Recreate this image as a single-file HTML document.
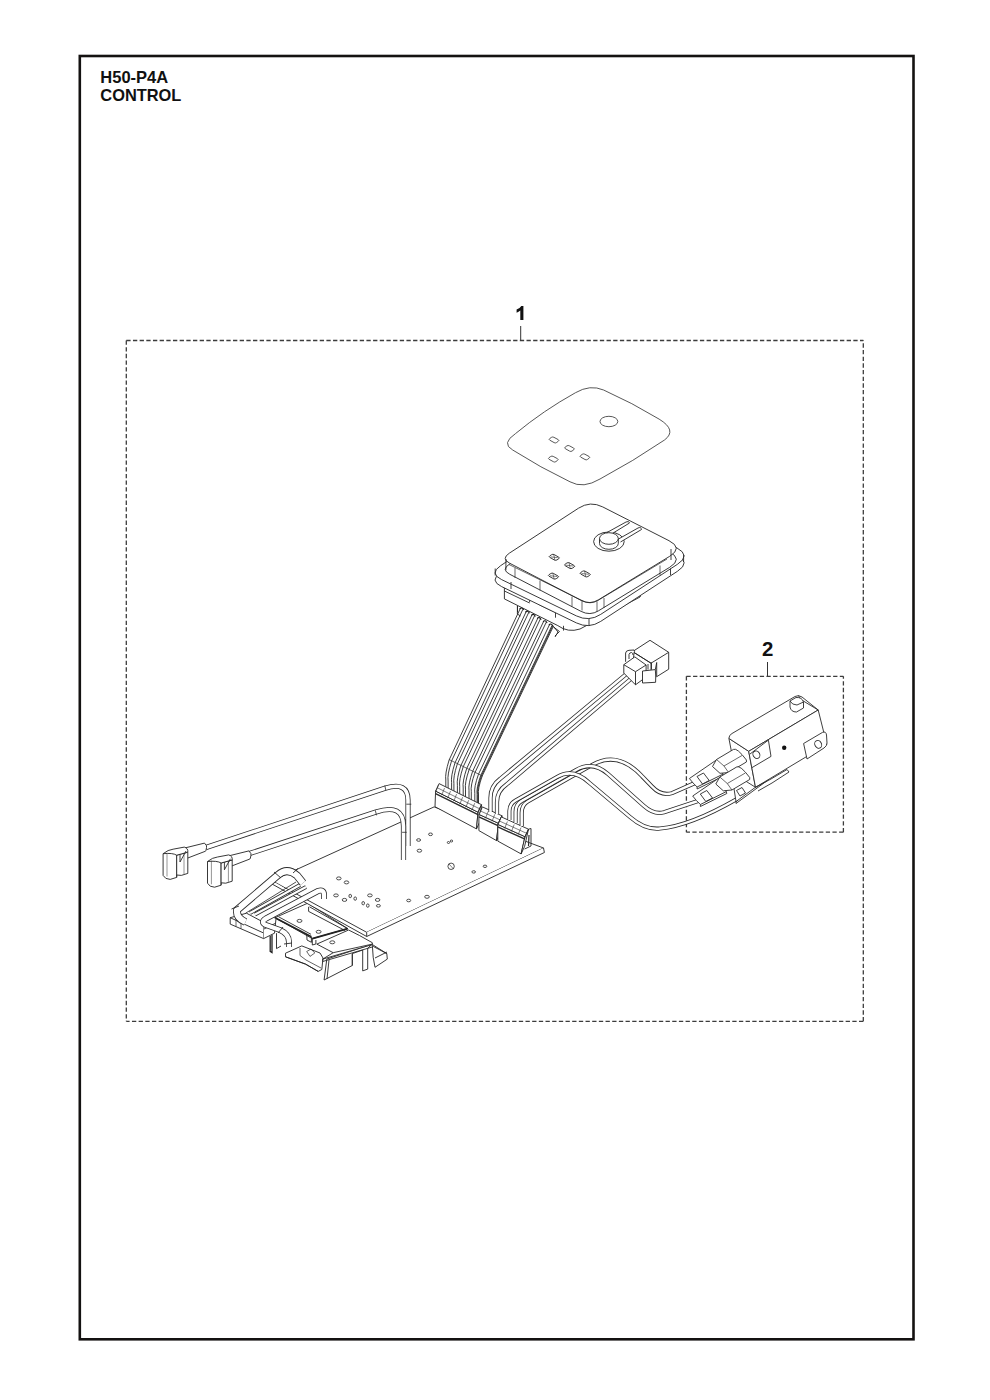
<!DOCTYPE html>
<html><head><meta charset="utf-8">
<style>
html,body{margin:0;padding:0;background:#fff;width:990px;height:1400px;overflow:hidden}
svg{position:absolute;left:0;top:0}
text{-webkit-font-smoothing:antialiased;font-family:"Liberation Sans",sans-serif;font-weight:bold;fill:#111}
</style></head><body>
<svg width="990" height="1400" viewBox="0 0 990 1400">
<rect x="79.8" y="56" width="833.7" height="1283.3" fill="none" stroke="#141211" stroke-width="2.6"/>
<text x="100.3" y="82.6" font-size="16.5">H50-P4A</text>
<text x="100.3" y="100.5" font-size="16.4">CONTROL</text>
<g fill="none" stroke="#3c3c3c" stroke-width="1.3" stroke-dasharray="4.3 2.37">
<path d="M126.3 340.5H863.3"/><path d="M126.3 340.5V1021.3"/><path d="M863.3 1021.3H126.3"/><path d="M863.3 1021.3V340.5"/>
<path d="M686.4 676.3H843.4"/><path d="M686.4 676.3V832.2"/><path d="M843.4 832.2H686.4"/><path d="M843.4 832.2V676.3"/>
</g>
<g stroke="#333" stroke-width="1">
<path d="M520.7 326V340.5"/><path d="M767.5 662V676.3"/>
</g>
<path d="M520.3 320V310.6Q518.6 312.1 516.6 312.8V309.6Q520 308.2 521.3 305.9H523.4V320Z" fill="#111"/>
<text x="762" y="656.2" font-size="20.4">2</text>
<path d="M515.5 433.6Q543.6 410.4 575.5 392.7Q590 384.2 603.6 390Q632.3 402.8 659.1 419.1Q677.5 430.3 664.5 440Q633.3 461.2 600 479Q583.2 489.1 570 481.8Q540.4 467.6 512.7 450Q500.9 443.5 515.5 433.6Z" fill="none" stroke="#444" stroke-width="0.9" />
<ellipse cx="608.9" cy="421.5" rx="8.9" ry="5.2" fill="none" stroke="#444" stroke-width="0.9"/>
<path d="M549.8 440.2Q548.5 439.4 549.7 438.6L551.4 437.4Q552.6 436.6 553.9 437.3L558.2 439.6Q559.5 440.3 558.3 441.2L556.6 442.5Q555.4 443.4 554.1 442.6Z" fill="none" stroke="#444" stroke-width="0.9" />
<path d="M565.3 448.7Q564 447.9 565.2 447.1L566.9 445.9Q568.1 445.1 569.4 445.8L573.7 448.1Q575 448.8 573.8 449.7L572.1 451Q570.9 451.9 569.6 451.1Z" fill="none" stroke="#444" stroke-width="0.9" />
<path d="M580.7 457.1Q579.4 456.3 580.6 455.5L582.3 454.3Q583.5 453.5 584.8 454.2L589.1 456.5Q590.4 457.2 589.2 458.1L587.5 459.4Q586.3 460.3 585 459.5Z" fill="none" stroke="#444" stroke-width="0.9" />
<path d="M549.1 459.3Q547.8 458.5 549 457.7L550.7 456.5Q551.9 455.7 553.2 456.4L557.5 458.7Q558.8 459.4 557.6 460.3L555.9 461.6Q554.7 462.5 553.4 461.7Z" fill="none" stroke="#444" stroke-width="0.9" />
<path d="M504.4 586V598.9L557.8 625.6Q568 633 580 629L640 597V586" fill="#fff" stroke="#222" stroke-width="0.9" />
<polyline points="529.6 595 529.6 602.3" fill="none" stroke="#2a2a2a" stroke-width="0.9"/>
<polyline points="539.3 599.9 539.3 604.7" fill="none" stroke="#2a2a2a" stroke-width="0.9"/>
<polyline points="555.5 612 555.5 617.7" fill="none" stroke="#2a2a2a" stroke-width="0.9"/>
<polyline points="563.5 625.8 563.5 630.6" fill="none" stroke="#2a2a2a" stroke-width="0.9"/>
<polyline points="504.4 591 529.6 603" fill="none" stroke="#2a2a2a" stroke-width="0.9"/>
<polyline points="539.3 604.7 555.5 612.5" fill="none" stroke="#2a2a2a" stroke-width="0.9"/>
<polyline points="636 590 636 598" fill="none" stroke="#2a2a2a" stroke-width="0.9"/>
<polyline points="640 588 640 597" fill="none" stroke="#2a2a2a" stroke-width="0.9"/>
<path d="M517.5 606V612M553.5 627L559.5 631.5L555 636" fill="none" stroke="#222" stroke-width="0.9" />
<path d="M582.4 517.8Q594 510 606.3 516.7L676.9 554.9Q691 562.5 677.6 571.2L600.7 621.4Q589 629 576.4 622.9L501.6 586.6Q489 580.5 500.6 572.7Z" fill="#fff" stroke="#222" stroke-width="0.9" />
<path d="M582.4 510.8Q594 503 606.3 509.7L676.9 547.9Q691 555.5 677.6 564.2L600.7 614.4Q589 622 576.4 615.9L501.6 579.6Q489 573.5 500.6 565.7Z" fill="#fff" stroke="#222" stroke-width="0.9" />
<polyline points="495.2 568.5 495.2 575.5" fill="none" stroke="#2a2a2a" stroke-width="0.9"/>
<polyline points="683.6 555 683.6 562" fill="none" stroke="#2a2a2a" stroke-width="0.9"/>
<polyline points="589 618.5 589 626" fill="none" stroke="#2a2a2a" stroke-width="0.9"/>
<polyline points="511 582 511 589" fill="none" stroke="#2a2a2a" stroke-width="0.9"/>
<polyline points="670.5 568.5 670.5 575" fill="none" stroke="#2a2a2a" stroke-width="0.9"/>
<path d="M578.5 519.2Q590.2 511.6 602.7 517.9L669 551.7Q683.3 558.9 669.7 567.3L598.5 610.8Q590 616 581.1 611.4L509.8 574.3Q500.9 569.7 509.3 564.2Z" fill="#fff" stroke="#222" stroke-width="0.9" />
<path d="M578.5 508.2Q590.2 500.6 602.7 506.9L669 540.7Q683.3 547.9 669.7 556.3L598.5 599.8Q590 605 581.1 600.4L509.8 563.3Q500.9 558.7 509.3 553.2Z" fill="#fff" stroke="#222" stroke-width="0.9" />
<polyline points="505.9 559 505.9 570" fill="none" stroke="#2a2a2a" stroke-width="0.9"/>
<polyline points="671 549 671 560" fill="none" stroke="#2a2a2a" stroke-width="0.9"/>
<path d="M509 564.5L583 601Q590 604.5 597 601L667 559" fill="none" stroke="#222" stroke-width="0.7" />
<polyline points="515 568 515 578" fill="none" stroke="#2a2a2a" stroke-width="0.7"/>
<polyline points="540 580.5 540 590.5" fill="none" stroke="#2a2a2a" stroke-width="0.7"/>
<polyline points="572 596.5 572 606.5" fill="none" stroke="#2a2a2a" stroke-width="0.7"/>
<polyline points="582 600.5 582 610.5" fill="none" stroke="#2a2a2a" stroke-width="0.7"/>
<polyline points="597 601.5 597 611.5" fill="none" stroke="#2a2a2a" stroke-width="0.7"/>
<polyline points="604 598 604 608" fill="none" stroke="#2a2a2a" stroke-width="0.7"/>
<polyline points="660 565.5 660 575.5" fill="none" stroke="#2a2a2a" stroke-width="0.7"/>
<path d="M549.8 557.4Q548.5 556.7 549.8 555.9L551.6 554.7Q552.9 553.9 554.2 554.6L558.8 557.2Q560.1 557.9 558.8 558.7L557 559.9Q555.7 560.7 554.4 560Z" fill="none" stroke="#222" stroke-width="0.9" />
<polyline points="553.7 554.3 554.9 560.3" fill="none" stroke="#2a2a2a" stroke-width="0.6"/>
<polyline points="550.7 556.9 557.9 557.7" fill="none" stroke="#2a2a2a" stroke-width="0.6"/>
<path d="M565.1 565.7Q563.8 565 565.1 564.2L566.9 563Q568.2 562.2 569.5 562.9L574.1 565.5Q575.4 566.2 574.1 567L572.3 568.2Q571 569 569.7 568.3Z" fill="none" stroke="#222" stroke-width="0.9" />
<polyline points="569 562.6 570.2 568.6" fill="none" stroke="#2a2a2a" stroke-width="0.6"/>
<polyline points="566 565.2 573.2 566" fill="none" stroke="#2a2a2a" stroke-width="0.6"/>
<path d="M580.7 574Q579.4 573.3 580.7 572.5L582.5 571.3Q583.8 570.5 585.1 571.2L589.7 573.8Q591 574.5 589.7 575.3L587.9 576.5Q586.6 577.3 585.3 576.6Z" fill="none" stroke="#222" stroke-width="0.9" />
<polyline points="584.6 570.9 585.8 576.9" fill="none" stroke="#2a2a2a" stroke-width="0.6"/>
<polyline points="581.6 573.5 588.8 574.3" fill="none" stroke="#2a2a2a" stroke-width="0.6"/>
<path d="M549 576.2Q547.7 575.5 549 574.7L550.8 573.5Q552.1 572.7 553.4 573.4L558 576Q559.3 576.7 558 577.5L556.2 578.7Q554.9 579.5 553.6 578.8Z" fill="none" stroke="#222" stroke-width="0.9" />
<polyline points="552.9 573.1 554.1 579.1" fill="none" stroke="#2a2a2a" stroke-width="0.6"/>
<polyline points="549.9 575.7 557.1 576.5" fill="none" stroke="#2a2a2a" stroke-width="0.6"/>
<ellipse cx="608.9" cy="541.6" rx="15.3" ry="9.6" fill="none" stroke="#222" stroke-width="0.9"/>
<path d="M607 532.5L626 522Q629 520.5 629.5 523L611.5 534" fill="#fff" stroke="#222" stroke-width="0.9" />
<path d="M618.5 539L638 528Q641 526.5 641.5 529.5L620.5 542" fill="#fff" stroke="#222" stroke-width="0.9" />
<path d="M599.5 538.5V543.5A9.4 5.8 0 0 0 618.3 543.5V538.5Z" fill="#fff" stroke="#222" stroke-width="0.9"/>
<ellipse cx="608.9" cy="538.5" rx="9.4" ry="5.8" fill="#fff" stroke="#222" stroke-width="0.9"/>
<path d="M520.5 608 L449.1 760 Q444.8 774 445.8 780 L445.8 790" fill="none" stroke="#1c1c1c" stroke-width="0.85" />
<path d="M522.9 609.3 L451.5 761.1 Q447.1 775.1 448.1 781.1 L448.1 791.1" fill="none" stroke="#1c1c1c" stroke-width="0.85" />
<path d="M526.4 611.2 L455 762.8 Q450.6 776.7 451.6 782.7 L451.6 792.8" fill="none" stroke="#1c1c1c" stroke-width="0.85" />
<path d="M528.7 612.5 L457.3 764 Q452.9 777.7 453.9 783.7 L453.9 794" fill="none" stroke="#1c1c1c" stroke-width="0.85" />
<path d="M532.2 614.4 L460.8 765.7 Q456.4 779.3 457.4 785.3 L457.4 795.7" fill="none" stroke="#1c1c1c" stroke-width="0.85" />
<path d="M534.6 615.7 L463.2 766.8 Q458.7 780.4 459.7 786.4 L459.7 796.8" fill="none" stroke="#1c1c1c" stroke-width="0.85" />
<path d="M538.1 617.6 L466.7 768.5 Q462.2 782 463.2 788 L463.2 798.5" fill="none" stroke="#1c1c1c" stroke-width="0.85" />
<path d="M540.4 618.9 L469.1 769.7 Q464.5 783.1 465.5 789.1 L465.5 799.7" fill="none" stroke="#1c1c1c" stroke-width="0.85" />
<path d="M543.9 620.8 L472.6 771.4 Q468 784.6 469 790.6 L469 801.4" fill="none" stroke="#1c1c1c" stroke-width="0.85" />
<path d="M546.3 622.1 L475 772.5 Q470.3 785.7 471.3 791.7 L471.3 802.5" fill="none" stroke="#1c1c1c" stroke-width="0.85" />
<path d="M549.8 624 L478.5 774.2 Q473.8 787.3 474.8 793.3 L474.8 804.2" fill="none" stroke="#1c1c1c" stroke-width="0.85" />
<path d="M552.1 625.3 L480.8 775.3 Q476.1 788.4 477.1 794.4 L477.1 805.3" fill="none" stroke="#1c1c1c" stroke-width="0.85" />
<path d="M553.5 626 L482.2 776 Q477.5 789 478.5 795 L478.5 806" fill="none" stroke="#1c1c1c" stroke-width="0.85" />
<path d="M552.8 625.6 L481.5 775.7 Q476.8 788.7 477.8 794.7 L477.8 805.7" fill="none" stroke="#1c1c1c" stroke-width="0.85" />
<polyline points="449 759.5 482.5 776" fill="none" stroke="#2a2a2a" stroke-width="0.7"/>
<path d="M519.7 609.1Q521.7 606.4 523.7 610.1" fill="none" stroke="#1c1c1c" stroke-width="1.1"/>
<path d="M525.5 612.3Q527.5 609.6 529.5 613.3" fill="none" stroke="#1c1c1c" stroke-width="1.1"/>
<path d="M531.4 615.5Q533.4 612.8 535.4 616.5" fill="none" stroke="#1c1c1c" stroke-width="1.1"/>
<path d="M537.2 618.7Q539.2 616 541.2 619.7" fill="none" stroke="#1c1c1c" stroke-width="1.1"/>
<path d="M543.1 621.9Q545.1 619.2 547.1 622.9" fill="none" stroke="#1c1c1c" stroke-width="1.1"/>
<path d="M548.9 625.1Q550.9 622.4 552.9 626.1" fill="none" stroke="#1c1c1c" stroke-width="1.1"/>
<path d="M517.4 606V614L520.5 616" fill="none" stroke="#222" stroke-width="0.9" />
<path d="M553.5 626.5L558 632L555 637" fill="none" stroke="#222" stroke-width="0.9" />
<path d="M285.5 953.2L301.8 945.9L320 953L323 958L321.8 969.5L318.2 971.4L305.5 964.1L285.5 956.8Z" fill="#fff" stroke="#222" stroke-width="0.9" />
<path d="M285.5 956.8L305.5 964.1L318.2 971.4" fill="none" stroke="#222" stroke-width="0.9" />
<path d="M300 948V955.5L306 960L321 968" fill="none" stroke="#222" stroke-width="0.7" />
<path d="M306.7 951.5L311 949L314.8 953L310 956.4Z" fill="none" stroke="#222" stroke-width="0.7" />
<path d="M275 917.7L307.7 903.2L347.7 928.6L312.3 938.6Z" fill="#fff" stroke="#222" stroke-width="0.9" />
<path d="M275 917.7L311.4 936.8" fill="none" stroke="#222" stroke-width="1.7" />
<polyline points="278.6 916.8 311 934.3" fill="none" stroke="#2a2a2a" stroke-width="0.9"/>
<path d="M306.8 935L307 940L311.4 942.3V936.8" fill="none" stroke="#222" stroke-width="0.9" />
<path d="M308.6 906.8V911.4L345 930.5M309.5 906.8L347.7 928.6" fill="none" stroke="#222" stroke-width="0.9" />
<path d="M312.3 938.6L347.7 928.6" fill="none" stroke="#222" stroke-width="1.7" />
<path d="M312.3 938.6V945L315.9 944V940" fill="none" stroke="#222" stroke-width="0.9" />
<ellipse cx="299.5" cy="920.9" rx="2.5" ry="1.5" fill="none" stroke="#222" stroke-width="0.8"/>
<ellipse cx="318.6" cy="931.8" rx="2.5" ry="1.5" fill="none" stroke="#222" stroke-width="0.8"/>
<path d="M372.3 944.5L386.8 953.6L387.3 959.1L375 967.3L373.2 957.3Z" fill="#fff" stroke="#222" stroke-width="0.9" />
<path d="M373.2 946.4L386.8 953.6M375 958L387 952" fill="none" stroke="#222" stroke-width="0.9" />
<path d="M326.8 959.1L324.1 980L352.3 965.5V953.6L362.7 950V970.9L367.7 969.1V948.2L372.3 944.1Z" fill="#fff" stroke="#222" stroke-width="0.9" />
<polyline points="352.3 953.6 352.3 965.5" fill="none" stroke="#2a2a2a" stroke-width="0.9"/>
<polyline points="329 960 327 979" fill="none" stroke="#2a2a2a" stroke-width="0.9"/>
<path d="M316.8 944.1L348.6 930L359.5 935.5L372.3 942.7V944.5L335 955.5L322.7 959.1L333.2 952.7Z" fill="#fff" stroke="#222" stroke-width="0.9" />
<polyline points="333.2 952.7 372.3 944.1" fill="none" stroke="#2a2a2a" stroke-width="0.9"/>
<polyline points="322.7 959.1 322.7 961.5" fill="none" stroke="#2a2a2a" stroke-width="0.9"/>
<polyline points="322.7 961.5 372.3 947" fill="none" stroke="#2a2a2a" stroke-width="0.9"/>
<ellipse cx="332.3" cy="942.3" rx="2.5" ry="1.5" fill="none" stroke="#222" stroke-width="0.8"/>
<path d="M230.2 917.7L246.5 913.2L263.6 922.3V938.6L230.2 924.1Z" fill="#fff" stroke="#222" stroke-width="0.9" />
<path d="M230.2 917.7L263.6 933" fill="none" stroke="#222" stroke-width="0.9" />
<path d="M263.6 922.3L273 917L276 918.5L274.5 933.2L263.6 938.6" fill="#fff" stroke="#222" stroke-width="0.9" />
<polyline points="264 929 275 923.5" fill="none" stroke="#2a2a2a" stroke-width="0.9"/>
<polyline points="236 920 236 926.5" fill="none" stroke="#2a2a2a" stroke-width="0.7"/>
<polyline points="241 922.5 241 928.7" fill="none" stroke="#2a2a2a" stroke-width="0.7"/>
<path d="M270.2 935.9V951.4L272 952.5V934.8" fill="none" stroke="#222" stroke-width="1.3" />
<path d="M276.5 933.2V948.6L281 946" fill="none" stroke="#222" stroke-width="0.9" />
<path d="M272 880.7L434.1 806.9L543.5 848L366.7 932.3Z" fill="#fff" stroke="#222" stroke-width="0.9" />
<path d="M366.7 932.3V936.5L544.4 852.5L543.5 848M272 880.7V884L366.7 936.5" fill="#fff" stroke="#222" stroke-width="0.9" />
<ellipse cx="338.8" cy="878.4" rx="2.3" ry="1.5" fill="none" stroke="#222" stroke-width="0.8"/>
<ellipse cx="346.5" cy="882.4" rx="2.3" ry="1.5" fill="none" stroke="#222" stroke-width="0.8"/>
<ellipse cx="336" cy="895.4" rx="2.3" ry="1.5" fill="none" stroke="#222" stroke-width="0.8"/>
<ellipse cx="344.5" cy="899.9" rx="2.3" ry="1.5" fill="none" stroke="#222" stroke-width="0.8"/>
<ellipse cx="369.9" cy="895.4" rx="2.3" ry="1.5" fill="none" stroke="#222" stroke-width="0.8"/>
<ellipse cx="377.6" cy="899.9" rx="2.3" ry="1.5" fill="none" stroke="#222" stroke-width="0.8"/>
<ellipse cx="378.4" cy="905.8" rx="2" ry="1.3" fill="none" stroke="#222" stroke-width="0.8"/>
<ellipse cx="408.7" cy="900.5" rx="2" ry="1.3" fill="none" stroke="#222" stroke-width="0.8"/>
<ellipse cx="427" cy="896.8" rx="2.3" ry="1.5" fill="none" stroke="#222" stroke-width="0.8"/>
<ellipse cx="418.6" cy="840" rx="2" ry="1.3" fill="none" stroke="#222" stroke-width="0.8"/>
<ellipse cx="430.5" cy="834.3" rx="2" ry="1.3" fill="none" stroke="#222" stroke-width="0.8"/>
<ellipse cx="419.4" cy="850.7" rx="2.3" ry="1.5" fill="none" stroke="#222" stroke-width="0.8"/>
<ellipse cx="473.7" cy="871.9" rx="1.8" ry="1.2" fill="none" stroke="#222" stroke-width="0.8"/>
<ellipse cx="485" cy="866.3" rx="1.8" ry="1.2" fill="none" stroke="#222" stroke-width="0.8"/>
<ellipse cx="350.2" cy="896" rx="1.3" ry="1.7" fill="none" stroke="#222" stroke-width="0.8"/>
<ellipse cx="355.2" cy="898.6" rx="1.3" ry="1.7" fill="none" stroke="#222" stroke-width="0.8"/>
<ellipse cx="363.2" cy="903.2" rx="1.3" ry="1.7" fill="none" stroke="#222" stroke-width="0.8"/>
<ellipse cx="367.8" cy="905.6" rx="1.3" ry="1.7" fill="none" stroke="#222" stroke-width="0.8"/>
<ellipse cx="448.5" cy="842.5" rx="1.2" ry="1" fill="none" stroke="#222" stroke-width="0.8"/>
<ellipse cx="451.5" cy="841" rx="1.2" ry="1" fill="none" stroke="#222" stroke-width="0.8"/>
<ellipse cx="451.1" cy="866.3" rx="3.2" ry="3.2" fill="none" stroke="#222" stroke-width="0.8"/>
<polyline points="449 864 453.5 869" fill="none" stroke="#2a2a2a" stroke-width="0.6"/>
<path d="M435.6 791.1 L478 812.2 L476.5 828.9 L435 806.7 Z" fill="#fff" stroke="#222" stroke-width="0.9" />
<path d="M435.6 791.1 L439.1 783.6 L481.5 804.7 L478 812.2 Z" fill="#fff" stroke="#222" stroke-width="0.9" />
<path d="M478 812.2 L481.5 804.7 L480 821.4 L476.5 828.9 Z" fill="#fff" stroke="#222" stroke-width="0.9" />
<polyline points="435.6 792.1 438.4 785.1" fill="none" stroke="#2a2a2a" stroke-width="0.6"/>
<polyline points="441.7 795.1 444.5 788.1" fill="none" stroke="#2a2a2a" stroke-width="0.6"/>
<polyline points="447.7 798.1 450.5 791.1" fill="none" stroke="#2a2a2a" stroke-width="0.6"/>
<polyline points="453.8 801.1 456.6 794.1" fill="none" stroke="#2a2a2a" stroke-width="0.6"/>
<polyline points="459.8 804.2 462.6 797.2" fill="none" stroke="#2a2a2a" stroke-width="0.6"/>
<polyline points="465.9 807.2 468.7 800.2" fill="none" stroke="#2a2a2a" stroke-width="0.6"/>
<polyline points="471.9 810.2 474.7 803.2" fill="none" stroke="#2a2a2a" stroke-width="0.6"/>
<polyline points="478 813.2 480.8 806.2" fill="none" stroke="#2a2a2a" stroke-width="0.6"/>
<polyline points="437.2 787.7 479.6 808.8" fill="none" stroke="#2a2a2a" stroke-width="0.6"/>
<polyline points="435.6 793.6 478 814.7" fill="none" stroke="#2a2a2a" stroke-width="1.3"/>
<path d="M478.9 814.4 L498.5 823.3 L496.5 840.6 L478.9 830.6 Z" fill="#fff" stroke="#222" stroke-width="0.9" />
<path d="M478.9 814.4 L482.4 806.9 L502 815.8 L498.5 823.3 Z" fill="#fff" stroke="#222" stroke-width="0.9" />
<path d="M498.5 823.3 L502 815.8 L500 833.1 L496.5 840.6 Z" fill="#fff" stroke="#222" stroke-width="0.9" />
<polyline points="478.9 815.4 481.7 808.4" fill="none" stroke="#2a2a2a" stroke-width="0.6"/>
<polyline points="485.4 818.4 488.2 811.4" fill="none" stroke="#2a2a2a" stroke-width="0.6"/>
<polyline points="492 821.3 494.8 814.3" fill="none" stroke="#2a2a2a" stroke-width="0.6"/>
<polyline points="498.5 824.3 501.3 817.3" fill="none" stroke="#2a2a2a" stroke-width="0.6"/>
<polyline points="480.5 811 500.1 819.9" fill="none" stroke="#2a2a2a" stroke-width="0.6"/>
<polyline points="478.9 816.9 498.5 825.8" fill="none" stroke="#2a2a2a" stroke-width="1.3"/>
<path d="M497.8 824.4 L525 836.7 L521.1 853.9 L497.8 841.1 Z" fill="#fff" stroke="#222" stroke-width="0.9" />
<path d="M497.8 824.4 L501.3 816.9 L528.5 829.2 L525 836.7 Z" fill="#fff" stroke="#222" stroke-width="0.9" />
<path d="M525 836.7 L528.5 829.2 L524.6 846.4 L521.1 853.9 Z" fill="#fff" stroke="#222" stroke-width="0.9" />
<polyline points="497.8 825.4 500.6 818.4" fill="none" stroke="#2a2a2a" stroke-width="0.6"/>
<polyline points="504.6 828.5 507.4 821.5" fill="none" stroke="#2a2a2a" stroke-width="0.6"/>
<polyline points="511.4 831.5 514.2 824.5" fill="none" stroke="#2a2a2a" stroke-width="0.6"/>
<polyline points="518.2 834.6 521 827.6" fill="none" stroke="#2a2a2a" stroke-width="0.6"/>
<polyline points="525 837.7 527.8 830.7" fill="none" stroke="#2a2a2a" stroke-width="0.6"/>
<polyline points="499.4 821 526.6 833.3" fill="none" stroke="#2a2a2a" stroke-width="0.6"/>
<polyline points="497.8 826.9 525 839.2" fill="none" stroke="#2a2a2a" stroke-width="1.3"/>
<path d="M528.5 829.2L531 828.5V846L524.6 849" fill="none" stroke="#222" stroke-width="0.9" />
<polyline points="529 835 528.5 846" fill="none" stroke="#2a2a2a" stroke-width="1.2"/>
<path d="M490.5 812V798Q490.5 786 500 779L627.5 673" fill="none" stroke="#2a2a2a" stroke-width="4.2" stroke-linejoin="round"/>
<path d="M490.5 812V798Q490.5 786 500 779L627.5 673" fill="none" stroke="#fff" stroke-width="2.6" stroke-linejoin="round"/>
<path d="M497 814V802Q497 791 506.5 784.5L632.5 677.5" fill="none" stroke="#2a2a2a" stroke-width="4.2" stroke-linejoin="round"/>
<path d="M497 814V802Q497 791 506.5 784.5L632.5 677.5" fill="none" stroke="#fff" stroke-width="2.6" stroke-linejoin="round"/>
<path d="M521.7 826V813Q521.7 805 527.8 801.5L592 765Q617.9 750 642 776.2L652 786.5Q661.2 796.4 672 793.1L695 783" fill="none" stroke="#2a2a2a" stroke-width="4.1" stroke-linejoin="round"/>
<path d="M521.7 826V813Q521.7 805 527.8 801.5L592 765Q617.9 750 642 776.2L652 786.5Q661.2 796.4 672 793.1L695 783" fill="none" stroke="#fff" stroke-width="2.5" stroke-linejoin="round"/>
<path d="M515.6 823V812Q515.6 804.4 521.7 800.9L576 770Q592.5 760.5 608 774L644 806Q653.9 814.9 664 812.3L698 801" fill="none" stroke="#2a2a2a" stroke-width="4.1" stroke-linejoin="round"/>
<path d="M515.6 823V812Q515.6 804.4 521.7 800.9L576 770Q592.5 760.5 608 774L644 806Q653.9 814.9 664 812.3L698 801" fill="none" stroke="#fff" stroke-width="2.5" stroke-linejoin="round"/>
<path d="M509.4 820V811Q509.4 804 515.5 800.5L557 777Q573.1 767.6 589 782.5L630 817Q645 830.1 660 828.5Q690 826 737 799" fill="none" stroke="#2a2a2a" stroke-width="4.1" stroke-linejoin="round"/>
<path d="M509.4 820V811Q509.4 804 515.5 800.5L557 777Q573.1 767.6 589 782.5L630 817Q645 830.1 660 828.5Q690 826 737 799" fill="none" stroke="#fff" stroke-width="2.5" stroke-linejoin="round"/>
<path d="M206 847.5L385 788.3Q408 781 408 800V846" fill="none" stroke="#2a2a2a" stroke-width="5.2" stroke-linejoin="round"/>
<path d="M206 847.5L385 788.3Q408 781 408 800V846" fill="none" stroke="#fff" stroke-width="3.6" stroke-linejoin="round"/>
<path d="M249.5 853.5L376 812Q403.5 803 403.5 826V860" fill="none" stroke="#2a2a2a" stroke-width="5.2" stroke-linejoin="round"/>
<path d="M249.5 853.5L376 812Q403.5 803 403.5 826V860" fill="none" stroke="#fff" stroke-width="3.6" stroke-linejoin="round"/>
<path d="M632.6 651.6L650 640.3L668.7 652.3V669.2L656.7 676.7L651 673V663.2Z" fill="#fff" stroke="#222" stroke-width="0.9" />
<path d="M632.6 651.6L651 663.2L668.7 652.3" fill="none" stroke="#222" stroke-width="0.9" />
<path d="M625.6 661.8V653Q626 650.5 629 650.3L634 650Q635 651 634 653L633.5 658" fill="#fff" stroke="#222" stroke-width="0.9" />
<path d="M629 659V654.5Q629.5 652.5 631.5 652.5Q633 653 633 655" fill="none" stroke="#222" stroke-width="0.9" />
<path d="M623.8 664.7L634.8 656.9L646.1 665V677L635.5 684.8L623.8 673.1Z" fill="#fff" stroke="#222" stroke-width="0.9" />
<path d="M623.8 664.7L635.5 671.7L646.1 665M635.5 671.7V684.8" fill="none" stroke="#222" stroke-width="0.9" />
<path d="M642.5 671L655.3 669.6Q656 676 655.6 682.3L642.5 683Z" fill="#fff" stroke="#222" stroke-width="0.9" />
<path d="M655.3 669.6L656.7 662.5V676" fill="none" stroke="#222" stroke-width="0.9" />
<polyline points="648 664 648 669.5" fill="none" stroke="#2a2a2a" stroke-width="0.9"/>
<polyline points="651.5 662.5 651.5 669.5" fill="none" stroke="#2a2a2a" stroke-width="0.9"/>
<path d="M733.5 785.4L762 770L768 778L736 801.6Z" fill="#fff" stroke="#2a2a2a" stroke-width="0.9" />
<path d="M736 801.6V803.5L768 780V778" fill="none" stroke="#2a2a2a" stroke-width="0.9" />
<path d="M736.5 790.5L742 787.5L745.5 793L740 796Z" fill="none" stroke="#2a2a2a" stroke-width="0.9" />
<path d="M728.9 738.4L748.7 751.3L755.5 787.3L736 775Z" fill="#fff" stroke="#2a2a2a" stroke-width="0.9" />
<path d="M728.9 738.4Q729 735 732 733.5L795 696.5Q798.5 694.5 802 697L818.2 710L748.7 751.3Z" fill="#fff" stroke="#2a2a2a" stroke-width="0.9" />
<path d="M748.7 751.3L818.2 710L826.8 744.4L755.5 787.3Z" fill="#fff" stroke="#2a2a2a" stroke-width="0.9" />
<path d="M798.5 695.5L800 699L818.2 710" fill="none" stroke="#2a2a2a" stroke-width="0.9" />
<path d="M803.6 743.5L822.5 732.4Q826 731 826.5 735L827 743Q827 746 824 748L807 759Z" fill="#fff" stroke="#2a2a2a" stroke-width="0.9" />
<ellipse cx="818.2" cy="744.4" rx="3.3" ry="4" transform="rotate(-30 818.2 744.4)" fill="none" stroke="#2a2a2a" stroke-width="0.9"/>
<path d="M750 754L768.4 740.1L771 756.4L752 767.6" fill="none" stroke="#2a2a2a" stroke-width="0.9" />
<ellipse cx="756.4" cy="754.7" rx="3.3" ry="4" transform="rotate(-30 756.4 754.7)" fill="none" stroke="#2a2a2a" stroke-width="0.9"/>
<circle cx="784.2" cy="747.8" r="2.2" fill="#111"/>
<path d="M790 701V707Q791 712 796.5 712L803.5 708V702Q802 697 796 697.5Z" fill="#fff" stroke="#2a2a2a" stroke-width="0.9" />
<path d="M790 701Q792 705 797 705L803.5 702" fill="none" stroke="#2a2a2a" stroke-width="0.9" />
<path d="M755.5 787.3L771 779L787 769.5L789 772L772 783L758 791" fill="none" stroke="#2a2a2a" stroke-width="0.9" />
<path d="M689.4 778.5L716.5 759.9L723 774.1L697.1 787L693.1 783Z" fill="#fff" stroke="#2a2a2a" stroke-width="0.9" />
<path d="M697.1 787V789L723.5 776L723 774.1" fill="none" stroke="#2a2a2a" stroke-width="0.9" />
<path d="M697 776.5L703.5 773L709.2 780.5L702.5 784Z" fill="none" stroke="#2a2a2a" stroke-width="0.9" />
<path d="M712.5 766.5L716.5 759.5L733.5 749.4Q737 747.5 746.4 760L746.4 762L728.6 772.5L720 773.3Z" fill="#fff" stroke="#2a2a2a" stroke-width="0.9" />
<path d="M716.5 759.5L724 766L728.6 772.5M724 766L742 755.5" fill="none" stroke="#2a2a2a" stroke-width="0.7" />
<path d="M692.7 796L719.8 777.4L726.3 791.6L700.4 804.5L696.4 800.5Z" fill="#fff" stroke="#2a2a2a" stroke-width="0.9" />
<path d="M700.4 804.5V806.5L726.8 793.5L726.3 791.6" fill="none" stroke="#2a2a2a" stroke-width="0.9" />
<path d="M700.3 794L706.8 790.5L712.5 798L705.8 801.5Z" fill="none" stroke="#2a2a2a" stroke-width="0.9" />
<path d="M715.8 784L719.8 777L736.8 766.9Q740.3 765 749.7 777.5L749.7 779.5L731.9 790L723.3 790.8Z" fill="#fff" stroke="#2a2a2a" stroke-width="0.9" />
<path d="M719.8 777L727.3 783.5L731.9 790M727.3 783.5L745.3 773" fill="none" stroke="#2a2a2a" stroke-width="0.7" />
<path d="M184.3 848.1L204.5 843.1Q207.5 846.1 206.5 847.6Q206 851.2 205.5 851.2L187.3 858.2" fill="#fff" stroke="#222" stroke-width="0.9" />
<path d="M163.1 853.7V875.4Q165.1 879.4 170.2 879.4L176.7 877.4V853.7" fill="#fff" stroke="#222" stroke-width="0.9" />
<path d="M176.7 855.2L187.8 852.2V873.4L181.3 875.4L176.7 875" fill="#fff" stroke="#222" stroke-width="0.9" />
<path d="M163.1 853.7Q168.1 849.7 173.1 849.2L184.3 847.1Q188.3 848.2 187.8 852.2L176.7 855.2Q172.7 852.7 163.1 853.7Z" fill="#fff" stroke="#222" stroke-width="0.9" />
<polyline points="176.7 855.2 176.7 877.4" fill="none" stroke="#2a2a2a" stroke-width="0.9"/>
<polyline points="180 854.5 180 862 186 851" fill="none" stroke="#2a2a2a" stroke-width="0.9"/>
<polyline points="167 853 167 876.5" fill="none" stroke="#2a2a2a" stroke-width="0.5"/>
<polyline points="184 853 184 874" fill="none" stroke="#2a2a2a" stroke-width="0.5"/>
<path d="M228.7 855.9L248.9 850.9Q251.9 853.9 250.9 855.4Q250.4 859 249.9 859L231.7 866" fill="#fff" stroke="#222" stroke-width="0.9" />
<path d="M207.5 861.5V883.2Q209.5 887.2 214.6 887.2L221.1 885.2V861.5" fill="#fff" stroke="#222" stroke-width="0.9" />
<path d="M221.1 863L232.2 860V881.2L225.7 883.2L221.1 882.8" fill="#fff" stroke="#222" stroke-width="0.9" />
<path d="M207.5 861.5Q212.5 857.5 217.5 857L228.7 854.9Q232.7 856 232.2 860L221.1 863Q217.1 860.5 207.5 861.5Z" fill="#fff" stroke="#222" stroke-width="0.9" />
<polyline points="221.1 863 221.1 885.2" fill="none" stroke="#2a2a2a" stroke-width="0.9"/>
<polyline points="224.4 862.3 224.4 869.8 230.4 858.8" fill="none" stroke="#2a2a2a" stroke-width="0.9"/>
<polyline points="211.4 860.8 211.4 884.3" fill="none" stroke="#2a2a2a" stroke-width="0.5"/>
<polyline points="228.4 860.8 228.4 881.8" fill="none" stroke="#2a2a2a" stroke-width="0.5"/>
<path d="M245.6 913.2L296 882" fill="none" stroke="#222" stroke-width="0.8" />
<path d="M250 913L300 885" fill="none" stroke="#2a2a2a" stroke-width="3.8" stroke-linejoin="round"/>
<path d="M250 913L300 885" fill="none" stroke="#fff" stroke-width="2.2" stroke-linejoin="round"/>
<path d="M255 914.5L306 887" fill="none" stroke="#2a2a2a" stroke-width="3.8" stroke-linejoin="round"/>
<path d="M255 914.5L306 887" fill="none" stroke="#fff" stroke-width="2.2" stroke-linejoin="round"/>
<path d="M324 899V895Q324 889 318 891L266 918.5Q260 922 266 925L280 930Q289 934 289 942V947" fill="none" stroke="#2a2a2a" stroke-width="6" stroke-linejoin="round"/>
<path d="M324 899V895Q324 889 318 891L266 918.5Q260 922 266 925L280 930Q289 934 289 942V947" fill="none" stroke="#fff" stroke-width="4.4" stroke-linejoin="round"/>
<path d="M245.5 922Q236 918 237 910L278 875Q287 867 297 875.5L303 883" fill="none" stroke="#2a2a2a" stroke-width="7.8" stroke-linejoin="round"/>
<path d="M245.5 922Q236 918 237 910L278 875Q287 867 297 875.5L303 883" fill="none" stroke="#fff" stroke-width="6.2" stroke-linejoin="round"/>
<polyline points="274 872 281 878" fill="none" stroke="#2a2a2a" stroke-width="0.9"/>
<polyline points="293 873 298 868.5" fill="none" stroke="#2a2a2a" stroke-width="0.9"/>
<polyline points="231.5 909 239 906" fill="none" stroke="#2a2a2a" stroke-width="0.9"/>
<polyline points="283 927 278 933" fill="none" stroke="#2a2a2a" stroke-width="0.9"/>
<polyline points="284 944 292 943" fill="none" stroke="#2a2a2a" stroke-width="0.9"/>
<polyline points="384.8 785.5 385.8 790.2" fill="none" stroke="#2a2a2a" stroke-width="0.8"/>
<polyline points="406.3 804.2 411.3 804.2" fill="none" stroke="#2a2a2a" stroke-width="0.8"/>
<polyline points="375.3 810.3 376.5 815.3" fill="none" stroke="#2a2a2a" stroke-width="0.8"/>
<polyline points="402.1 832.3 406.7 832.3" fill="none" stroke="#2a2a2a" stroke-width="0.8"/>
</svg>
</body></html>
